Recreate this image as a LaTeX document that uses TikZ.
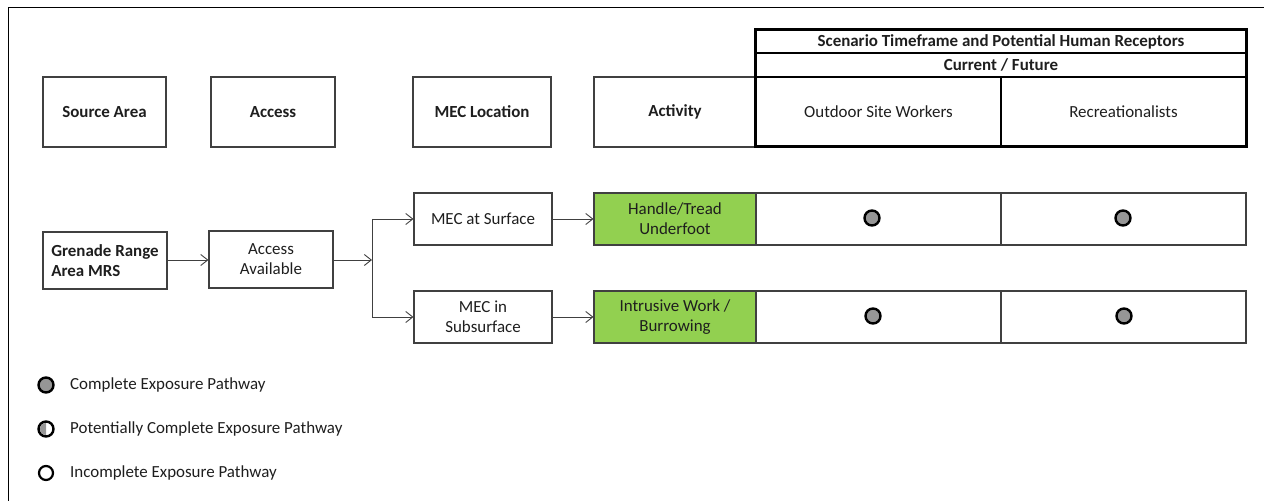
\documentclass[tikz,border=0pt]{standalone}
\usepackage{fontspec}
\setmainfont{Carlito}
\usetikzlibrary{arrows.meta}
\definecolor{lgreen}{RGB}{146,208,80}
\definecolor{boxline}{RGB}{64,64,64}
\definecolor{txt}{RGB}{30,30,30}
\definecolor{dotgray}{RGB}{150,150,150}
\newcommand{\fsz}{\fontsize{17}{20}\selectfont}
\tikzset{
  box/.style={draw=boxline, line width=1.1bp, rectangle, inner sep=1bp, align=center, text=txt, font=\fsz},
  hbox/.style={box, font=\fsz\bfseries},
  gbox/.style={box, fill=lgreen},
  hcell/.style={draw=black, line width=1.1bp, rectangle, inner sep=0pt, align=center, text=txt},
  arr/.style={draw=boxline, line width=0.9bp, -{Straight Barb[length=7bp,width=11bp,line width=0.9bp]}},
  conn/.style={draw=boxline, line width=0.9bp},
  dot/.style={circle, draw=black, line width=2.4bp, fill=dotgray, minimum size=15bp, inner sep=0pt},
  legtext/.style={anchor=west, text=txt, inner sep=0pt, font=\fsz},
}
\begin{document}
\begin{tikzpicture}[x=1bp,y=-1bp]
\useasboundingbox (0,0) rectangle (1264,501);
% outer frame
\draw[black, line width=1.2bp] (8.5,501) -- (8.5,7.5) -- (1264,7.5);

% header row boxes
\node[hbox, minimum width=123bp, minimum height=70bp] (src) at (104.5,112) {Source Area};
\node[hbox, minimum width=124bp, minimum height=70bp] (acc) at (273,112) {Access};
\node[hbox, minimum width=138bp, minimum height=70bp] (mloc) at (482,112) {MEC Location};
\node[hbox, minimum width=162bp, minimum height=70bp] (act) at (675,112) {Activity};

% scenario table
\node[hcell, minimum width=490bp, minimum height=23bp, font=\fsz\bfseries] (scen) at (1001,41.5) {Scenario Timeframe and Potential Human Receptors};
\node[hcell, minimum width=490bp, minimum height=24bp, font=\fsz\bfseries] (cur) at (1001,65) {Current / Future};
\node[hcell, minimum width=245bp, minimum height=69bp, font=\fsz] (osw) at (878.5,111.5) {Outdoor Site Workers};
\node[hcell, minimum width=245bp, minimum height=69bp, font=\fsz] (rec) at (1123.5,111.5) {Recreationalists};
\draw[black, line width=2.2bp] (scen.north west) rectangle (rec.south east);

% flow boxes
\node[box, font=\fsz\bfseries, align=left, minimum width=124bp, minimum height=57bp] (gr) at (105,260.5) {Grenade Range\\Area MRS};
\node[box, minimum width=124bp, minimum height=57bp] (aa) at (271,259.5) {Access\\Available};
\node[box, minimum width=138bp, minimum height=52bp] (ms) at (483,219) {MEC at Surface};
\node[box, minimum width=138bp, minimum height=52bp] (mss) at (483,317) {MEC in\\Subsurface};
\node[gbox, minimum width=162bp, minimum height=52bp] (ht) at (675,219) {Handle/Tread\\Underfoot};
\node[gbox, minimum width=162bp, minimum height=52bp] (iw) at (675,317) {Intrusive Work /\\Burrowing};

% result cells
\node[box, minimum width=245bp, minimum height=52bp] (c11) at (878.5,219) {};
\node[box, minimum width=245bp, minimum height=52bp] (c12) at (1123.5,219) {};
\node[box, minimum width=245bp, minimum height=52bp] (c21) at (878.5,317) {};
\node[box, minimum width=245bp, minimum height=52bp] (c22) at (1123.5,317) {};

% dots
\node[dot] (d11) at (872,218) {};
\node[dot] (d12) at (1123,218) {};
\node[dot] (d21) at (873,316) {};
\node[dot] (d22) at (1124,316) {};

% connectors
\coordinate (br) at (372,260);
\coordinate (brt) at (372,219);
\coordinate (brb) at (372,317);
\draw[arr] (gr.east |- br) -- (aa.west |- br);
\draw[arr] (aa.east |- br) -- (br);
\draw[conn] (brt) -- (brb);
\draw[arr] (brt) -- (ms.west);
\draw[arr] (brb) -- (mss.west);
\draw[arr] (ms.east) -- (ht.west);
\draw[arr] (mss.east) -- (iw.west);

% legend
\node[dot] (l1) at (46,385) {};
\node[legtext] (t1) at (70,385) {Complete Exposure Pathway};
\coordinate (l2c) at (46,429);
\fill[dotgray] ([yshift=6bp]l2c) arc[start angle=90, end angle=270, radius=6bp] -- cycle;
\node[circle, draw=black, line width=2.4bp, minimum size=15bp, inner sep=0pt] (l2) at (l2c) {};
\node[legtext] (t2) at (70,429) {Potentially Complete Exposure Pathway};
\node[circle, draw=black, line width=2.2bp, fill=white, minimum size=14bp, inner sep=0pt] (l3) at (46,473) {};
\node[legtext] (t3) at (70,473) {Incomplete Exposure Pathway};
\end{tikzpicture}
\end{document}
